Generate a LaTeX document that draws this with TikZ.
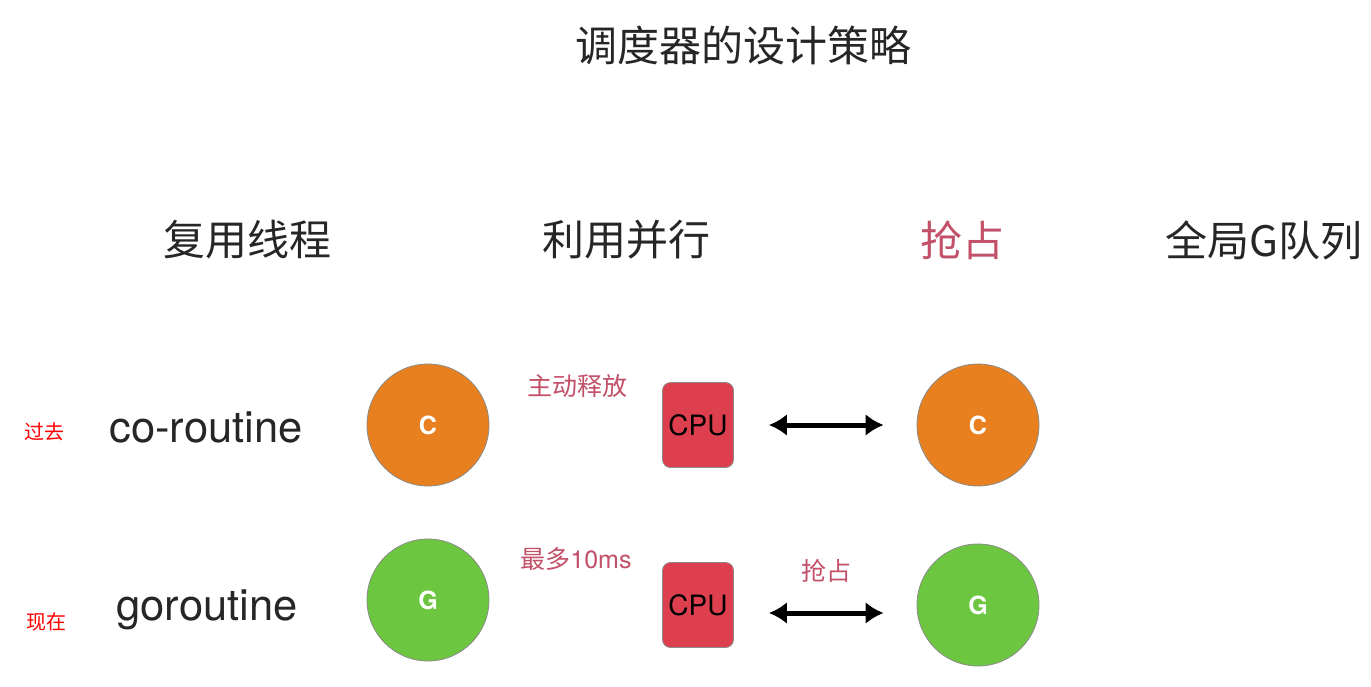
\documentclass[tikz,border=0pt]{standalone}
\usepackage{fontspec}
\setmainfont{TeX Gyre Heros}
\newfontfamily\cjk{Noto Sans CJK SC}
\usetikzlibrary{arrows.meta}
\definecolor{titlegray}{HTML}{262626}
\definecolor{accent}{HTML}{C25068}
\definecolor{corange}{HTML}{E8801F}
\definecolor{ggreen}{HTML}{6CC640}
\definecolor{cpured}{HTML}{DD3F4F}
\definecolor{rimgray}{HTML}{8A8A8A}
\tikzset{
  txt/.style={inner sep=0pt, text=titlegray},
  heading/.style={txt, font=\cjk\fontsize{42}{44}\selectfont},
  note/.style={inner sep=0pt, text=accent, font=\cjk\fontsize{25}{27}\selectfont},
  era/.style={inner sep=0pt, text=red, font=\cjk\fontsize{20}{22}\selectfont},
  kind/.style={txt, font=\fontsize{43.5}{45}\selectfont},
  task/.style={circle, draw=rimgray, line width=0.8pt, minimum size=122pt, inner sep=0pt,
               text=white, font=\bfseries\fontsize{25}{27}\selectfont},
  cpubox/.style={rectangle, rounded corners=8pt, draw=rimgray, line width=0.8pt, fill=cpured,
                 minimum width=71pt, minimum height=85pt, inner sep=0pt,
                 text=black, font=\fontsize{28}{30}\selectfont},
  swap/.style={line width=5pt, {Latex[length=18pt,width=22pt]}-{Latex[length=18pt,width=22pt]}}
}
\begin{document}
\begin{tikzpicture}[x=1pt,y=-1pt]
\useasboundingbox[fill=white] (0,0) rectangle (1371,686);

% title and the four strategy headings
\node[heading] (title) at (743,45) {调度器的设计策略};
\node[heading] (h1) at (247,240) {复用线程};
\node[heading] (h2) at (626,240) {利用并行};
\node[heading, text=accent] (h3) at (962,240) {抢占};
\node[heading] (h4) at (1264,240) {全局G队列};

% row labels
\node[era] (past) at (44,432) {过去};
\node[era] (now) at (46,622) {现在};
\node[kind] (co) at (206,427) {co-routine};
\node[kind] (go) at (207,610) {goroutine};

% co-routine row
\node[task, fill=corange] (c1) at (428,425) {C};
\node[note] (n1) at (577,386) {主动释放};
\node[cpubox] (cpu1) at (698,425) {CPU};
\node[task, fill=corange] (c2) at (978,425) {C};
\draw[swap, shorten <=35pt, shorten >=33pt] (cpu1) -- (c2);

% goroutine row
\node[task, fill=ggreen] (g1) at (428,600) {G};
\node[note] (n2) at (576,559) {最多{\fontspec{TeX Gyre Heros}10ms}};
\node[cpubox] (cpu2) at (698,605) {CPU};
\node[task, fill=ggreen] (g2) at (978,605) {G};
\node[note] (n3) at (826,571) {抢占};
\draw[swap, shorten <=35pt, shorten >=33pt] ([yshift=-8pt]cpu2.east) -- ([yshift=-8pt]g2.west);
\end{tikzpicture}
\end{document}
